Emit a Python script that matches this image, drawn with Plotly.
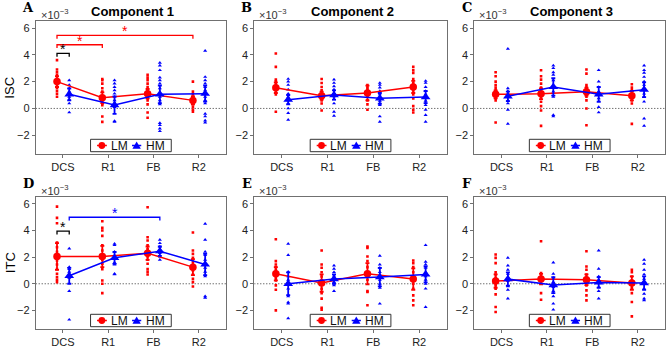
import plotly.graph_objects as go

conditions = ["DCS", "R1", "FB", "R2"]
groups = ["LM", "HM"]
panel_letters = ["A", "B", "C", "D", "E", "F"]
components = ["Component 1", "Component 2", "Component 3"]
row_titles = ["ISC", "ITC"]

# ---- Panel A (ISC, Component 1) values in units of 1e-3 ----
A_LM_pts = [[3.6, 2.9, 2.7, 2.5, 2.2, 2.1, 1.85, 1.65, 1.5, 1.3, 1.1, 0.87],
            [2.2, 2.1, 1.85, 1.5, 1.25, 0.87, 0.6, 0.37, 0.25, -0.6, -1.0],
            [2.5, 2.3, 2.1, 1.85, 1.6, 1.35, 1.1, 0.87, 0.6, 0.3, -0.3, -0.7],
            [2.0, 1.25, 1.05, 0.87, 0.67, 0.5, 0.3, 0.1, -0.1, -0.25]]
A_HM_pts = [[2.1, 1.75, 1.5, 1.25, 1.05, 0.87, 0.67, 0.37, -0.3],
            [2.1, 1.85, 1.6, 1.35, 1.1, 0.87, 0.6, 0.37, 0.1, -0.95, -1.0],
            [3.4, 3.2, 2.85, 2.3, 2.1, 1.85, 1.5, 1.1, 0.87, 0.6, 0.3, -1.1, -1.25, -1.5, -1.7],
            [4.3, 2.35, 2.1, 1.85, 1.6, 1.35, 1.1, 0.87, 0.6, 0.37, -0.4, -0.6, -0.9, -1.05]]
A_LM_mean = [2.0, 0.8, 1.1, 0.6]
A_LM_err = [0.4, 0.4, 0.35, 0.3]
A_HM_mean = [1.05, 0.25, 1.05, 1.1]
A_HM_err = [0.45, 0.65, 0.65, 0.6]

# ---- Panel B (ISC, Component 2) ----
B_LM_pts = [[4.1, 3.1, 2.15, 2.0, 1.8, 1.65, 1.55, 1.4, 1.25, 1.05, -0.25],
            [2.2, 1.9, 1.6, 1.35, 1.1, 0.87, 0.6, 0.37, -0.15],
            [1.75, 1.55, 1.35, 1.1, 0.87, 0.6, 0.3, -0.1],
            [3.1, 2.85, 2.65, 2.2, 1.9, 1.65, 1.35, 1.05, 0.75, 0.17, -0.1, -0.3]]
B_HM_pts = [[2.2, 2.0, 1.75, 1.4, 1.1, 0.87, 0.6, 0.37, 0.0, -0.35, -0.85],
            [2.15, 1.9, 1.65, 1.4, 1.15, 0.9, 0.67, 0.37, -0.25, -0.55],
            [1.9, 1.75, 1.55, 1.3, 1.05, 0.8, 0.57, 0.25, -0.6, -1.0],
            [2.05, 1.9, 1.6, 1.3, 1.05, 0.8, 0.57, 0.25, -0.1, -0.5, -1.0]]
B_LM_mean = [1.55, 0.95, 1.15, 1.6]
B_LM_err = [0.4, 0.3, 0.55, 0.45]
B_HM_mean = [0.65, 1.0, 0.75, 0.85]
B_HM_err = [0.35, 0.35, 0.4, 0.45]

# ---- Panel C (ISC, Component 3) ----
C_LM_pts = [[2.7, 2.4, 2.0, 1.75, 1.55, 1.35, 1.1, 0.87, 0.6, -1.05],
            [2.85, 2.4, 2.15, 1.85, 1.55, 1.25, 0.87, 0.5, 0.17, -0.15, -1.3],
            [2.9, 2.6, 1.75, 1.6, 1.4, 1.15, 0.87, 0.6, 0.0, -1.25],
            [1.8, 1.55, 1.35, 1.1, 0.87, 0.6, 0.37, -1.15]]
C_HM_pts = [[4.45, 1.5, 1.3, 1.1, 0.87, 0.6, 0.37, -0.1, -1.15],
            [3.2, 3.0, 2.7, 2.5, 2.1, 1.65, 1.25, 0.87, -0.5, -0.6],
            [2.85, 2.0, 1.6, 1.25, 1.0, 0.75, 0.5, 0.1, -0.3],
            [3.2, 2.85, 2.65, 2.35, 2.0, 1.75, 1.4, 1.1, 0.87, 0.5, -0.75, -1.3]]
C_LM_mean = [1.05, 1.1, 1.25, 0.95]
C_LM_err = [0.3, 0.4, 0.3, 0.35]
C_HM_mean = [0.9, 1.6, 1.05, 1.4]
C_HM_err = [0.35, 0.65, 0.55, 0.55]

# ---- Panel D (ITC, Component 1) ----
D_LM_pts = [[5.8, 4.95, 4.55, 3.1, 2.75, 2.4, 2.05, 1.75, 1.45, 1.1, 0.75, 0.5, 0.3, 0.12],
            [4.7, 4.2, 4.0, 3.6, 2.9, 2.5, 2.1, 1.8, 1.5, 1.1, 0.25, 0.0, -0.7],
            [5.75, 3.5, 3.25, 2.9, 2.6, 2.3, 2.05, 1.8, 1.5, 1.1, 0.9, 0.7],
            [3.85, 2.5, 2.25, 1.95, 1.6, 1.3, 1.0, 0.7, 0.37, 0.12, -0.2]]
D_HM_pts = [[2.65, 1.25, 1.1, 0.9, 0.62, 0.45, -0.55, -2.7],
            [3.0, 2.9, 2.4, 2.05, 1.9, 1.6, 1.45, 0.75, 0.7],
            [3.3, 3.05, 2.8, 2.55, 2.3, 2.05, 1.8],
            [4.5, 3.3, 2.4, 2.15, 1.8, 1.5, 1.2, 0.9, 0.55, -0.95, -1.05]]
D_LM_mean = [2.05, 2.05, 2.3, 1.25]
D_LM_err = [1.0, 0.8, 0.5, 0.6]
D_HM_mean = [0.6, 1.95, 2.45, 1.45]
D_HM_err = [0.6, 0.45, 0.35, 0.8]

# ---- Panel E (ITC, Component 2) ----
E_LM_pts = [[3.35, 1.7, 1.45, 1.25, 1.05, 0.75, 0.45, 0.25, -0.12, -0.45, -2.0],
            [2.5, 1.45, 1.2, 0.87, 0.55, 0.25, -0.05, -0.37, -0.7, -1.12, -1.8, -1.95],
            [2.8, 2.7, 2.05, 1.7, 1.25, 0.87, 0.55, 0.3, -0.55, -0.62, -1.62],
            [1.75, 1.55, 1.25, 0.87, 0.5, 0.0, -0.37, -0.87, -1.25, -1.62]]
E_HM_pts = [[3.0, 2.15, 0.9, 0.55, 0.3, 0.0, -0.37, -0.95, -1.4, -1.5, -2.6],
            [1.37, 1.12, 0.87, 0.62, 0.37, 0.12, -0.12, -0.55],
            [2.1, 1.45, 1.2, 0.87, 0.55, 0.3, 0.0, -0.3, -1.5],
            [2.9, 1.65, 1.45, 1.2, 0.87, 0.55, 0.3, 0.0, -0.37, -1.75]]
E_LM_mean = [0.75, 0.05, 0.75, 0.35]
E_LM_err = [0.5, 0.65, 0.8, 0.8]
E_HM_mean = [0.0, 0.35, 0.5, 0.7]
E_HM_err = [0.85, 0.35, 0.7, 0.6]

# ---- Panel F (ITC, Component 3) ----
F_LM_pts = [[2.2, 1.95, 1.55, 0.87, 0.7, 0.45, 0.25, -0.12, -0.37, -0.8, -1.75, -2.12],
            [3.2, 0.8, 0.55, 0.25, 0.0, -0.7, -1.2],
            [2.45, 1.3, 1.05, 0.7, 0.45, 0.2, -0.12, -0.5, -0.87, -1.25],
            [1.05, 0.87, 0.55, 0.25, 0.0, -0.3, -0.7, -1.37, -2.45]]
F_HM_pts = [[1.95, 1.37, 1.05, 0.75, 0.45, 0.2, -0.2, -0.45, -1.12],
            [1.6, 0.75, 0.45, 0.12, -0.25, -0.55, -0.95, -1.5, -1.95],
            [2.5, 1.12, 0.55, 0.3, 0.05, -0.25, -0.55, -1.12],
            [1.8, 1.5, 1.05, 0.7, 0.37, 0.0, -0.37, -0.75, -1.12, -1.25]]
F_LM_mean = [0.2, 0.35, 0.3, 0.05]
F_LM_err = [0.5, 0.4, 0.4, 0.5]
F_HM_mean = [0.35, -0.1, 0.1, 0.05]
F_HM_err = [0.5, 0.6, 0.4, 0.5]

# significance brackets: panel index, x from, x to, height, colour
sig_panel = [0, 0, 0, 3, 3]
sig_x1 = [0.87, 0.87, 0.87, 0.87, 1.14]
sig_x2 = [1.14, 1.87, 3.87, 1.14, 3.14]
sig_y = [4.1, 4.75, 5.45, 3.95, 5.0]
sig_color = ["black", "red", "red", "black", "blue"]

LM_pts = [A_LM_pts, B_LM_pts, C_LM_pts, D_LM_pts, E_LM_pts, F_LM_pts]
HM_pts = [A_HM_pts, B_HM_pts, C_HM_pts, D_HM_pts, E_HM_pts, F_HM_pts]
LM_mean = [A_LM_mean, B_LM_mean, C_LM_mean, D_LM_mean, E_LM_mean, F_LM_mean]
HM_mean = [A_HM_mean, B_HM_mean, C_HM_mean, D_HM_mean, E_HM_mean, F_HM_mean]
LM_err = [A_LM_err, B_LM_err, C_LM_err, D_LM_err, E_LM_err, F_LM_err]
HM_err = [A_HM_err, B_HM_err, C_HM_err, D_HM_err, E_HM_err, F_HM_err]

# ---- layout geometry (pixels) ----
W, H = 668, 348
col_px = [(35.7, 226.0), (254.3, 446.7), (474.3, 665.0)]
row_px = [(21.3, 154.0), (197.3, 329.0)]
OFF = {"LM": -0.13, "HM": 0.14}
RED = "#ff0000"
BLUE = "#0000ff"
FONT = "Liberation Sans, Arial, sans-serif"
AXC = "#707070"


def px(x):
    return x / W


def py(y):
    return 1 - y / H


fig = go.Figure()
annotations = []
shapes = []

for p in range(6):
    r, c = divmod(p, 3)
    n = p + 1
    xa = "x" if n == 1 else f"x{n}"
    ya = "y" if n == 1 else f"y{n}"
    for g, pts, col, sym, sz in [("LM", LM_pts[p], RED, "square", 2.6),
                                 ("HM", HM_pts[p], BLUE, "triangle-up", 3.6)]:
        xs, ys = [], []
        for i, vals in enumerate(pts):
            for v in vals:
                xs.append(i + 1 + OFF[g])
                ys.append(v)
        fig.add_trace(go.Scatter(x=xs, y=ys, mode="markers", xaxis=xa, yaxis=ya,
                                 marker=dict(color=col, size=sz, symbol=sym, line=dict(width=0)),
                                 showlegend=False, hoverinfo="skip"))
    for g, mean, err, col, sym, sz in [("LM", LM_mean[p], LM_err[p], RED, "circle", 7.5),
                                       ("HM", HM_mean[p], HM_err[p], BLUE, "triangle-up", 8.5)]:
        fig.add_trace(go.Scatter(x=[i + 1 + OFF[g] for i in range(4)], y=mean,
                                 mode="lines+markers", name=g, xaxis=xa, yaxis=ya,
                                 showlegend=False,
                                 line=dict(color=col, width=1.5),
                                 marker=dict(color=col, size=sz, symbol=sym),
                                 error_y=dict(type="data", array=err, color=col,
                                              thickness=1.8, width=2)))
    x0, x1 = col_px[c]
    y0, y1 = row_px[r]
    fig.layout[("xaxis" if n == 1 else f"xaxis{n}")] = dict(
        domain=[px(x0), px(x1)], range=[0.4, 4.6], anchor=ya,
        tickmode="array", tickvals=[1, 2, 3, 4], ticktext=conditions,
        showline=True, mirror=True, linecolor=AXC, linewidth=1,
        ticks="outside", ticklen=3, tickcolor=AXC, showgrid=False, zeroline=False,
        tickfont=dict(size=11, color="#222", family=FONT))
    fig.layout[("yaxis" if n == 1 else f"yaxis{n}")] = dict(
        domain=[py(y1), py(y0)], range=[-3.4, 6.5], anchor=xa,
        tickmode="array", tickvals=[-2, 0, 2, 4, 6], ticktext=["\u22122", "0", "2", "4", "6"],
        showline=True, mirror=True, linecolor=AXC, linewidth=1,
        ticks="outside", ticklen=3, tickcolor=AXC, showgrid=False, zeroline=False,
        tickfont=dict(size=11, color="#222", family=FONT))
    # dotted zero line
    shapes.append(dict(type="line", xref=xa, yref=ya, x0=0.4, x1=4.6, y0=0, y1=0,
                       line=dict(color="#333", width=1, dash="1px,2px"), layer="below"))

    # legend box (drawn per panel)
    lx = (x0 + x1) / 2 - 40.3
    cy = y1 - 8.5
    shapes.append(dict(type="rect", xref="paper", yref="paper",
                       x0=px(lx), x1=px(lx + 80.7), y0=py(cy + 6.2), y1=py(cy - 6.2),
                       line=dict(color="#333", width=1), fillcolor="white", layer="above"))
    shapes.append(dict(type="line", xref="paper", yref="paper",
                       x0=px(lx + 6.5), x1=px(lx + 16.3), y0=py(cy), y1=py(cy),
                       line=dict(color=RED, width=1.5), layer="above"))
    shapes.append(dict(type="circle", xref="paper", yref="paper",
                       x0=px(lx + 11.3 - 3.4), x1=px(lx + 11.3 + 3.4),
                       y0=py(cy + 3.4), y1=py(cy - 3.4),
                       line=dict(color=RED, width=0), fillcolor=RED, layer="above"))
    shapes.append(dict(type="line", xref="paper", yref="paper",
                       x0=px(lx + 41.5), x1=px(lx + 50.7), y0=py(cy), y1=py(cy),
                       line=dict(color=BLUE, width=1.5), layer="above"))
    tx = lx + 46.1
    shapes.append(dict(type="path", xref="paper", yref="paper",
                       path=f"M {px(tx - 4.2)},{py(cy + 3.3)} L {px(tx + 4.2)},{py(cy + 3.3)} "
                            f"L {px(tx)},{py(cy - 4.0)} Z",
                       line=dict(color=BLUE, width=0), fillcolor=BLUE, layer="above"))
    for label, offx in [("LM", 18.0), ("HM", 53.0)]:
        annotations.append(dict(text=label, x=px(lx + offx), y=py(cy + 0.5), xref="paper", yref="paper",
                                xanchor="left", yanchor="middle", showarrow=False,
                                font=dict(size=12, family=FONT, color="#111")))

    # panel letter
    annotations.append(dict(text=f"<b>{panel_letters[p]}</b>", x=px(x0 - 7.5), y=py(y0 - 14),
                            xref="paper", yref="paper", xanchor="center", yanchor="middle",
                            showarrow=False, font=dict(size=13, family="DejaVu Serif", color="black")))
    # exponent
    annotations.append(dict(text="\u00d710<sup>\u22123</sup>", x=px(x0 + 3), y=py(y0 - 7),
                            xref="paper", yref="paper", xanchor="left", yanchor="middle",
                            showarrow=False, font=dict(size=11, family=FONT, color="#333")))
    if r == 0:
        annotations.append(dict(text=f"<b>{components[c]}</b>", x=px((x0 + x1) / 2 + 2), y=py(12),
                                xref="paper", yref="paper", xanchor="center", yanchor="middle",
                                showarrow=False, font=dict(size=13, family=FONT, color="black")))
    if c == 0:
        annotations.append(dict(text=row_titles[r], x=px(10), y=py((y0 + y1) / 2),
                                xref="paper", yref="paper", xanchor="center", yanchor="middle",
                                textangle=-90, showarrow=False,
                                font=dict(size=13, family=FONT, color="black")))

# significance brackets
for k in range(len(sig_panel)):
    n = sig_panel[k] + 1
    xa = "x" if n == 1 else f"x{n}"
    ya = "y" if n == 1 else f"y{n}"
    a, b, y, col = sig_x1[k], sig_x2[k], sig_y[k], sig_color[k]
    shapes.append(dict(type="path", xref=xa, yref=ya,
                       path=f"M {a},{y - 0.25} L {a},{y} L {b},{y} L {b},{y - 0.25}",
                       line=dict(color=col, width=1.3)))
    annotations.append(dict(text="*", x=(a + b) / 2, y=y, xref=xa, yref=ya,
                            xanchor="center", yanchor="bottom", yshift=-6, showarrow=False,
                            font=dict(size=14, family=FONT, color=col)))

fig.update_layout(width=W, height=H, margin=dict(l=0, r=0, t=0, b=0, autoexpand=False),
                  plot_bgcolor="white", paper_bgcolor="white", showlegend=False,
                  annotations=annotations, shapes=shapes)

fig.write_html("out.html", config={"displayModeBar": False},
               post_script="document.body.style.margin='0';document.body.style.overflow='hidden';")
